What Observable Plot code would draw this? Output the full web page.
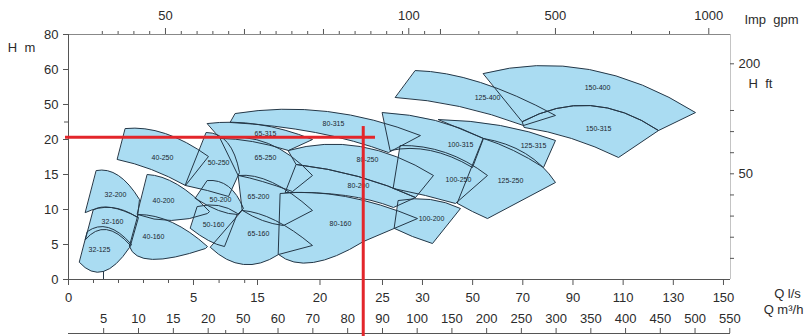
<!DOCTYPE html>
<html><head><meta charset="utf-8">
<script src="https://cdn.jsdelivr.net/npm/d3@7"></script>
<script src="https://cdn.jsdelivr.net/npm/@observablehq/plot@0.6"></script>
<style>
body{margin:0;background:#fff;}
#chart{position:relative;width:810px;height:336px;overflow:hidden;}
#err{position:absolute;left:0;top:0;font:10px monospace;color:#c00;white-space:pre;}
</style></head><body><div id="chart"></div><div id="err"></div>
<script>
// ---- pump models (tiles) ----
const models = ["32-125","32-160","32-200","40-160","40-200","40-250","50-250","50-200","50-160",
  "65-315","65-250","65-200","65-160","80-315","80-250","80-200","80-160","100-200","100-250","100-315",
  "125-250","125-315","125-400","150-400","150-315"];
// corner / mid points of each tile, [Q l/s, H m]
const topLeft = [[0.76,6.86],[1.0,9.96],[1.12,15.57],[2.8,9.29],[3.16,15.0],[2.28,29.4],[7.03,26.0],[7.19,14.14],[5.63,10.43],
  [7.19,33.7],[9.22,20.9],[12.03,14.86],[12.66,9.86],[11.56,42.3],[17.48,18.43],[18.12,16.43],[16.84,12.29],[27.0,11.29],[27.25,19.14],[25.0,43.1],
  [54.32,20.9],[36.38,37.1],[29.13,59.7],[54.32,58.86],[69.87,35.4]];
const topMid = [[1.6,7.43],[1.72,10.29],[2.0,14.86],[4.16,8.14],[4.36,13.57],[3.88,25.1],[10.31,19.57],[10.47,13.29],[8.91,10.57],
  [15.08,32.9],[15.88,19.43],[16.2,13.86],[16.44,8.43],[20.6,44.0],[23.24,19.0],[23.08,14.71],[22.04,11.86],[33.19,11.43],[39.17,18.14],[35.18,36.3],
  [71.07,18.0],[61.1,32.0],[53.13,56.3],[96.59,60.0],[96.99,49.1]];
const topRight = [[2.52,5.0],[2.8,8.86],[2.84,11.43],[7.19,4.71],[7.5,9.71],[7.34,17.57],[12.19,15.29],[12.81,10.14],[11.88,9.43],
  [19.4,20.0],[19.4,14.86],[19.4,9.86],[19.4,4.86],[29.75,23.4],[34.39,14.86],[29.13,11.71],[29.38,8.71],[45.15,10.14],[55.92,14.86],[54.32,20.9],
  [83.03,13.86],[83.03,19.86],[83.03,40.6],[138.85,43.1],[124.1,27.7]];
const bottomRight = [[2.44,4.57],[2.48,4.86],[2.76,8.86],[6.88,4.43],[7.19,9.43],[4.68,13.43],[10.47,11.86],[11.88,9.29],[9.84,4.71],
  [17.48,18.43],[17.8,12.57],[17.08,7.71],[16.68,3.57],[25.75,18.14],[29.13,11.71],[26.38,10.29],[23.48,5.43],[33.99,5.14],[43.16,10.86],[49.94,16.0],
  [55.92,8.71],[78.25,16.0],[70.27,32.0],[124.1,27.7],[108.15,17.43]];
const bottomMid = [[1.4,1.14],[1.52,7.14],[1.72,10.29],[3.36,2.86],[4.12,8.43],[3.32,15.71],[7.19,12.71],[8.91,9.86],[7.34,5.57],
  [14.22,19.71],[15.4,14.0],[15.4,8.43],[12.81,2.14],[19.64,26.0],[23.08,14.71],[22.04,12.0],[19.48,2.43],[28.75,6.14],[31.2,12.0],[33.19,18.43],
  [49.94,9.71],[66.28,18.43],[44.75,48.3],[96.99,49.1],[89.41,20.9]];
const bottomLeft = [[0.44,2.43],[0.68,5.71],[0.68,9.57],[2.44,4.71],[2.76,9.29],[1.96,17.14],[4.68,13.43],[5.31,11.57],[4.88,7.29],
  [9.22,20.9],[12.03,14.86],[12.66,9.86],[7.66,4.57],[10.78,34.6],[18.12,16.43],[17.24,12.43],[16.68,3.57],[26.5,7.29],[26.38,13.0],[26.0,18.43],
  [43.96,10.86],[54.32,20.9],[26.63,52.0],[69.87,35.4],[70.67,30.3]];
const labelAt = [[1.24,4.29],[1.76,8.29],[1.88,12.14],[3.4,6.14],[3.8,11.29],[3.76,17.43],[8.91,16.71],[9.22,11.43],[8.13,7.86],
  [15.64,25.1],[15.64,17.43],[15.08,11.86],[15.08,6.57],[21.08,33.7],[23.8,17.14],[23.08,13.43],[21.64,8.0],[33.59,8.71],[44.35,14.29],[45.15,19.29],
  [65.09,14.14],[74.26,19.14],[55.92,52.0],[99.78,54.86],[100.18,29.4]];

// ---- duty point marker lines ----
const dutyQ = 23.46, dutyH = 22.0;
const dutyHRange = [-0.12, 24.44];   // l/s
const dutyQRange = [31.1, -8.14];    // m
const stub = [{q: 1.4, h1: 1.14, h2: 0}];

// ---- axes (printed values) ----
const qAnchors = [0, 5, 15, 25, 30, 150];
const qTicks = [0, 5, 15, 20, 25, 30, 50, 70, 90, 110, 130, 150];
const qMinor = [1, 2, 3, 4, 9, 13];
const hAnchors = [0, 20, 50, 60, 80];
const hTicks = [0, 5, 10, 15, 20, 50, 60, 80];
const hMinor = [35];
const m3Anchors = [0, 20, 50, 90, 100, 550];
const m3Ticks = [5, 10, 15, 20, 50, 60, 70, 80, 90, 100, 150, 200, 250, 300, 350, 400, 450, 500, 550];
const m3Minor = [35];
const gpmAnchors = [0, 50, 80, 100, 200, 500, 800, 1000];
const gpmTicks = [50, 100, 500, 1000];
const gpmMid = [60, 70, 200];
const gpmMinor = [10, 20, 30, 40, 52, 54, 56, 58, 62, 64, 66, 68, 72, 74, 76, 78, 80, 150, 300, 400, 600, 700, 800];
const ftAnchors = [0, 50, 80, 200];
const ftTicks = [50, 200];
const ftMinor = [10, 20, 30, 40, 60, 70, 80];

// layout: where each printed anchor sits, as a fraction of the frame (the printed scales are irregular)
const qPos = [0, 0.1888, 0.2855, 0.4743, 0.5347, 0.9894];
const m3Pos = [0.0005, 0.2110, 0.2639, 0.4743, 0.5267, 0.9989];
const gpmPos = [0.0272, 0.1465, 0.5045, 0.5140, 0.5619, 0.7356, 0.9079, 0.9672];
const hPos = [0, 0.5714, 0.7143, 0.8571, 1];
const ftPos = [0, 0.4314, 0.6898, 0.8804];

const W = 810, H = 336, mT = 34, mR = 80, mB = 57, mL = 68;
const px = 1 / (W - mL - mR), py = 1 / (H - mT - mB);
const m3AxisY = -54 * py;

const FILL = "#aadcf2", EDGE = "#243747", RED = "#e3262b", INK = "#2b2b2b", TICK = "#555";
const font = "'Liberation Sans', Arial, sans-serif";

const qW = d3.scaleLinear().domain(qAnchors).range(qPos);
const hW = d3.scaleLinear().domain(hAnchors).range(hPos);
const m3W = d3.scaleLinear().domain(m3Anchors).range(m3Pos);
const gpmW = d3.scaleLinear().domain(gpmAnchors).range(gpmPos);
const ftW = d3.scaleLinear().domain(ftAnchors).range(ftPos);

// tiles: top arc through mid point, straight right side, bottom arc through mid point
function tileCurve(context) {
  let p;
  const q = (a, m, b) => context.quadraticCurveTo(2*m[0]-(a[0]+b[0])/2, 2*m[1]-(a[1]+b[1])/2, b[0], b[1]);
  return {
    areaStart() {}, areaEnd() {},
    lineStart() { p = []; },
    point(x, y) { p.push([+x, +y]); },
    lineEnd() {
      if (p.length < 6) return;
      context.moveTo(p[0][0], p[0][1]);
      q(p[0], p[1], p[2]);
      context.lineTo(p[3][0], p[3][1]);
      q(p[3], p[4], p[5]);
      context.closePath();
    }
  };
}

const rows = [];
models.forEach((m, i) => {
  [topLeft, topMid, topRight, bottomRight, bottomMid, bottomLeft].forEach(a => rows.push({id: m, q: a[i][0], h: a[i][1]}));
});
const labels = models.map((m, i) => ({id: m, q: labelAt[i][0], h: labelAt[i][1]}));
const fmt = d => String(d);
const T = {fontSize: 13, fill: INK};
const sp = "\u00a0\u00a0";

try {
const chart = Plot.plot({
  width: W, height: H, marginTop: mT, marginRight: mR, marginBottom: mB, marginLeft: mL,
  style: {fontFamily: font, background: "white", overflow: "visible", color: INK},
  x: {domain: [0, 1], axis: null},
  y: {domain: [0, 1], axis: null},
  marks: [
    // tiles
    Plot.line(rows, {x: d => qW(d.q), y: d => hW(d.h), z: "id", fill: FILL, stroke: "none", curve: tileCurve}),
    Plot.line(rows, {x: d => qW(d.q), y: d => hW(d.h), z: "id", fill: "none", stroke: EDGE, strokeWidth: 1, curve: tileCurve}),
    Plot.text(labels, {x: d => qW(d.q), y: d => hW(d.h), text: "id", fontSize: 7, fill: "#1b2630"}),
    Plot.ruleX(stub, {x: d => qW(d.q), y1: d => hW(d.h1), y2: d => hW(d.h2), stroke: EDGE, strokeWidth: 1}),
    // frame
    Plot.ruleY([1], {stroke: "#888"}),
    Plot.ruleX([1], {stroke: "#c4c4c4"}),
    Plot.ruleX([0], {stroke: TICK}),
    Plot.ruleY([0], {stroke: TICK}),
    // left axis H m
    Plot.ruleY(hTicks, {y: hW, x1: 0, x2: -5 * px, stroke: TICK}),
    Plot.ruleY(hMinor, {y: hW, x1: 0, x2: -4 * px, stroke: TICK}),
    Plot.text(hTicks, {x: 0, y: hW, dx: -10, textAnchor: "end", text: fmt, ...T}),
    Plot.text(["H" + sp + "m"], {x: 0, y: 1, dx: -47, dy: 13, textAnchor: "middle", ...T}),
    // bottom axis Q l/s
    Plot.ruleX(qTicks, {x: qW, y1: 0, y2: -6 * py, stroke: TICK}),
    Plot.ruleX(qMinor, {x: qW, y1: 0, y2: -4 * py, stroke: TICK}),
    Plot.text(qTicks, {x: qW, y: 0, dy: 18, text: fmt, ...T}),
    Plot.text(["Q l/s"], {x: 1, y: 0, dx: 57, dy: 14, textAnchor: "middle", ...T}),
    // second bottom axis Q m3/h
    Plot.ruleY([m3AxisY], {x1: 0, x2: 1, stroke: TICK}),
    Plot.ruleX(m3Ticks, {x: m3W, y1: m3AxisY, y2: m3AxisY + 5 * py, stroke: TICK}),
    Plot.ruleX(m3Minor, {x: m3W, y1: m3AxisY, y2: m3AxisY + 3 * py, stroke: TICK}),
    Plot.text(m3Ticks, {x: m3W, y: m3AxisY, dy: -15, text: fmt, ...T}),
    Plot.text(["Q m³/h"], {x: 1, y: 0, dx: 53, dy: 30, textAnchor: "middle", ...T}),
    // top axis Imp gpm
    Plot.ruleX(gpmTicks, {x: gpmW, y1: 1, y2: 1 + 6 * py, stroke: TICK}),
    Plot.ruleX(gpmMid, {x: gpmW, y1: 1, y2: 1 + 5 * py, stroke: TICK}),
    Plot.ruleX(gpmMinor, {x: gpmW, y1: 1, y2: 1 + 3 * py, stroke: TICK}),
    Plot.text(gpmTicks, {x: gpmW, y: 1, dy: -19, text: fmt, ...T}),
    Plot.text(["Imp" + sp + "gpm"], {x: 1, y: 1, dx: 41, dy: -15, textAnchor: "middle", ...T}),
    // right axis H ft
    Plot.ruleY(ftTicks.concat(ftMinor), {y: ftW, x1: 1, x2: 1 + 4 * px, stroke: TICK}),
    Plot.text(ftTicks, {x: 1, y: ftW, dx: 8, textAnchor: "start", text: fmt, ...T}),
    Plot.text(["H" + sp + "ft"], {x: 1, y: 1, dx: 30, dy: 49, textAnchor: "middle", ...T}),
    // duty point lines
    Plot.ruleY([{h: dutyH, a: dutyHRange[0], b: dutyHRange[1]}], {y: d => hW(d.h), x1: d => qW(d.a), x2: d => qW(d.b), stroke: RED, strokeWidth: 3}),
    Plot.ruleX([{q: dutyQ, a: dutyQRange[0], b: dutyQRange[1]}], {x: d => qW(d.q), y1: d => hW(d.a), y2: d => hW(d.b), stroke: RED, strokeWidth: 3})
  ]
});
document.getElementById("chart").appendChild(chart);
} catch (e) {
  document.getElementById("err").textContent = "ERR " + e.message;
}
</script></body></html>
